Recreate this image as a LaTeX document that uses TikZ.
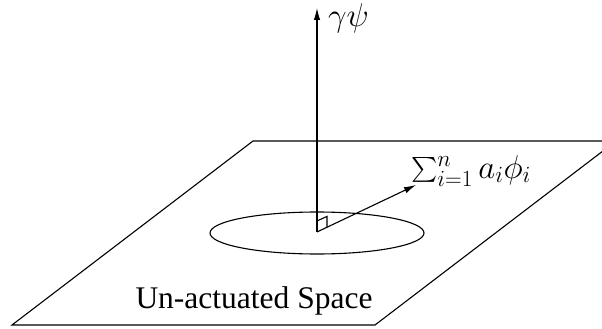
\RequirePackage{fix-cm}
\documentclass[tikz,border=0pt]{standalone}
\usepackage{amsmath}
\usepackage[no-math]{fontspec}
\setmainfont{Liberation Serif}
\usetikzlibrary{arrows.meta,calc}
\tikzset{
  thinline/.style={line width=1.1pt, black},
  vecarrow/.style={thinline, -{Latex[length=12pt,width=6.5pt]}},
  mathlabel/.style={inner sep=0pt, font=\fontsize{33}{36}\selectfont},
  textlabel/.style={inner sep=0pt, font=\fontsize{31.5}{34}\selectfont}
}
\begin{document}
\begin{tikzpicture}[x=1pt,y=-1pt]
\useasboundingbox (0,0) rectangle (602,329);
\clip (0,0) rectangle (602,329);
% plane
\coordinate (BL) at (12,325);
\coordinate (BR) at (375,325);
\coordinate (TR) at (616,141);
\coordinate (TL) at (253,141);
\draw[thinline] (BL) -- (BR) -- (TR) -- (TL) -- cycle;
% ellipse
\coordinate (O) at (317,232);
\draw[thinline] (317,233) ellipse [x radius=107, y radius=21];
% vectors
\coordinate (top) at (317,8);
\coordinate (tip) at (416,185);
\draw[vecarrow] (O) -- (top);
\draw[vecarrow] (O) -- (tip);
% right angle marker
\draw[thinline] ($(O)+(0,-11)$) -- ($(O)+(0,-11)+(10,-4.6)$) -- ($(O)+(10,-4.6)$);
% labels
\node[mathlabel, anchor=west] (g) at (328,18) {$\gamma\psi$};
\node[mathlabel, anchor=base west] (s) at (411,178) {$\sum_{i=1}^n a_i\phi_i$};
\node[textlabel, anchor=base] (u) at (254,308) {Un-actuated Space};
\end{tikzpicture}
\end{document}
